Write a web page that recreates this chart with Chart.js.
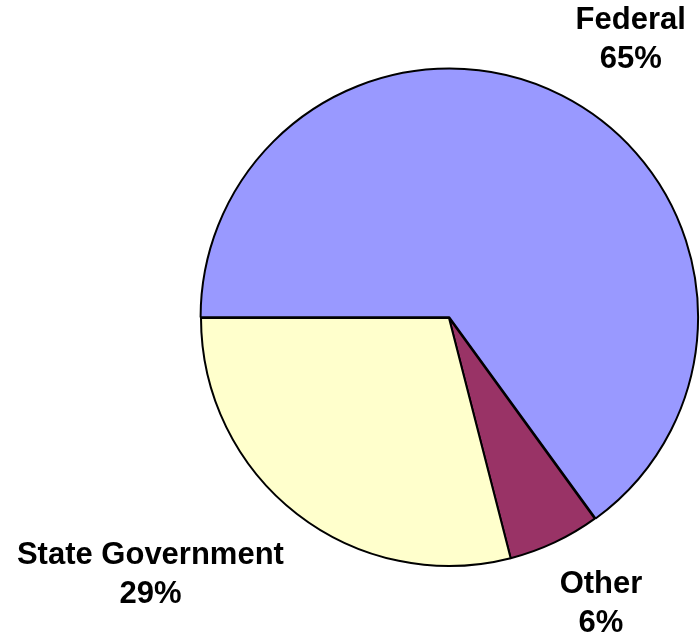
<!DOCTYPE html>
<html>
<head>
<meta charset="utf-8">
<script src="https://cdn.jsdelivr.net/npm/chart.js@4/dist/chart.umd.min.js"></script>
<style>
  html, body { margin: 0; padding: 0; background: #fff; }
  #wrap { width: 700px; height: 639px; }
</style>
</head>
<body>
<div id="wrap"><canvas id="pie" width="700" height="639"></canvas></div>
<script>
// Funding sources (percent)
const categories = ['Federal', 'Other', 'State Government'];
const shares = [65, 6, 29];
const sliceColors = ['#9999FF', '#993366', '#FFFFCC'];

// label placement: distance from centre (x radius) and nudge from mid angle (degrees)
const labelDist = [1.31, 1.336, 1.61];
const labelNudge = [7, -2.1, 10.6];

// Draws the "Name / NN%" labels outside the pie
const outsideLabels = {
    id: 'outsideLabels',
    afterDatasetsDraw(chart) {
        const ctx = chart.ctx;
        const meta = chart.getDatasetMeta(0);
        ctx.save();
        ctx.fillStyle = '#000';
        ctx.font = 'bold 31px "Liberation Sans", Arial, sans-serif';
        ctx.textAlign = 'center';
        ctx.textBaseline = 'alphabetic';
        meta.data.forEach((arc, i) => {
            const mid = (arc.startAngle + arc.endAngle) / 2 + labelNudge[i] * Math.PI / 180;
            const r = arc.outerRadius * labelDist[i];
            const x = arc.x + Math.cos(mid) * r;
            const y = arc.y + Math.sin(mid) * r;
            ctx.fillText(categories[i], x, y - 19.5);
            ctx.fillText(shares[i] + '%', x, y + 19.5);
        });
        ctx.restore();
    }
};

new Chart(document.getElementById('pie').getContext('2d'), {
    type: 'pie',
    data: {
        labels: categories,
        datasets: [{
            data: shares,
            backgroundColor: sliceColors,
            borderColor: '#000',
            borderWidth: 2,
            offset: [3, 0, 0]
        }]
    },
    options: {
        responsive: false,
        animation: false,
        rotation: -90,
        layout: {
            padding: { left: 198.5, right: 0.5, top: 67.5, bottom: 70.5 }
        },
        plugins: {
            legend: { display: false },
            tooltip: { enabled: false }
        }
    },
    plugins: [outsideLabels]
});
</script>
</body>
</html>
